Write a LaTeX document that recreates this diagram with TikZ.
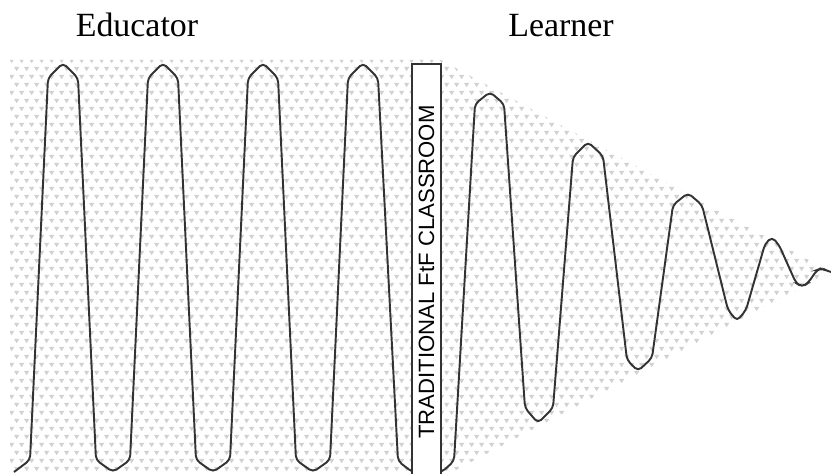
\documentclass[tikz,border=0pt]{standalone}
\usepackage{fontspec}
\setmainfont{Liberation Serif}
\newfontfamily\arialfont{Liberation Sans}
\usetikzlibrary{patterns.meta}

\tikzdeclarepattern{
  name=tridots,
  type=uncolored,
  bounding box={(0pt,0pt) and (5.69pt,9.1pt)},
  tile size={(5.69pt,9.1pt)},
  code={
    \fill (0pt,8pt) -- (3pt,8pt) -- (1.5pt,5.6pt) -- cycle;
    \fill (2.85pt,3.45pt) -- (5.85pt,3.45pt) -- (4.35pt,1.05pt) -- cycle;
  }
}
\tikzset{
  wave/.style = {line width = 1.1pt, draw = black!80, rounded corners = 2.5pt},
  label/.style = {font = \fontsize{19.3}{23}\selectfont, anchor = base},
  roombox/.style = {draw = black!80, line width = 0.9pt, fill = white, rotate = 90, inner sep = 0pt,
    minimum width = 8.32cm, minimum height = 0.58cm, font = \arialfont\fontsize{12.6}{15}\selectfont}
}

\begin{document}
\begin{tikzpicture}[x = 0.02cm, y = -0.02cm]
\useasboundingbox (0,0) rectangle (831,473);
% shaded field behind the waves
\fill[pattern = tridots, pattern color = black!18] (10,60) -- (441,60) -- (831,272) -- (441,478) -- (10,478) -- cycle;
% educator side: steady waves
\draw[wave] (14,472) -- (30,460) -- (48,78) -- (63,63) -- (78,78) -- (96,460) -- (113,472) -- (130,460)
  -- (148,78) -- (163,63) -- (178,78) -- (196,460) -- (213,472) -- (230,460)
  -- (248,78) -- (263,63) -- (278,78) -- (296,460) -- (313,472) -- (330,460)
  -- (348,78) -- (363,63) -- (378,78) -- (398,461) -- (412,472) -- (442,472) -- (454,461)
% learner side: fading waves
  -- (475,104) -- (490,92) -- (504,104) -- (525,408) -- (538,423) -- (553,408)
  -- (573,157) -- (588,142) -- (603,156) -- (627,360) -- (638,371) -- (652,358)
  -- (673,205) -- (688,193) -- (702,205) -- (728,310) -- (737,321) -- (746,310)
  -- (765,244) -- (772,237) -- (779,245) -- (796,283) -- (802,287) -- (808,283)
  -- (817,270) -- (822,268) -- (827,271) -- (831,272);
\node[roombox] (classroom) at (426.5,272) {TRADITIONAL FtF CLASSROOM};
\node[label] (educator) at (137,37) {Educator};
\node[label] (learner) at (561,37) {Learner};
\end{tikzpicture}
\end{document}
